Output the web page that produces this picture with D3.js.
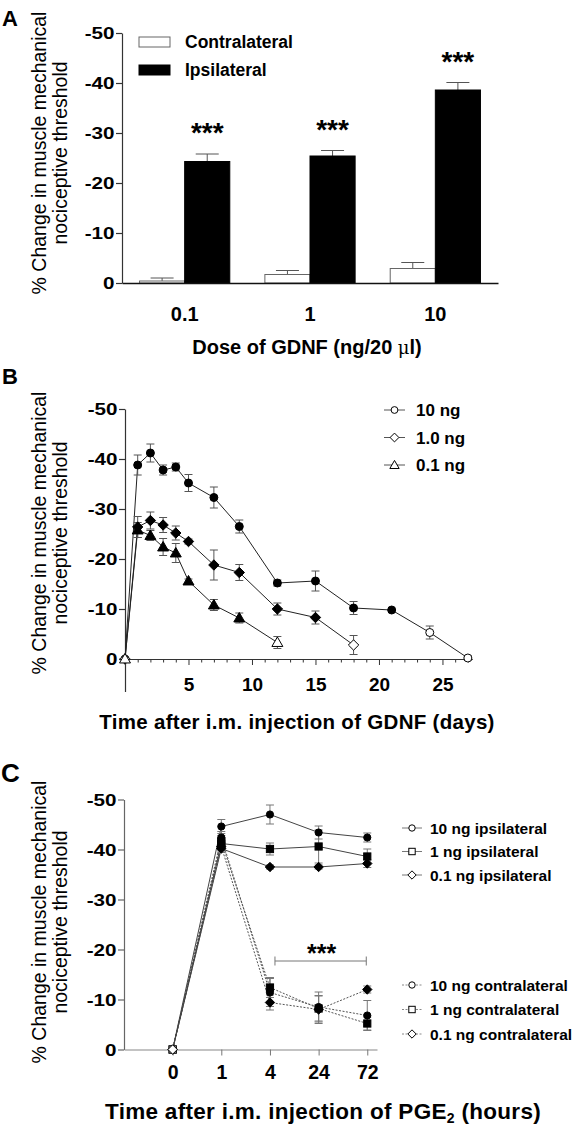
<!DOCTYPE html>
<html><head><meta charset="utf-8">
<script src="https://cdn.jsdelivr.net/npm/d3@7"></script>
<style>body{margin:0;background:#fff}svg{display:block}</style>
</head><body><svg id="c" width="577" height="1126"></svg>
<script>
// ---------- Panel A data ----------
const dosesA = ["0.1", "1", "10"];
const contraMeanA = [-0.4, -1.7, -2.9];
const contraErrA = [0.6, 0.8, 1.2];
const ipsiMeanA = [-24.3, -25.4, -38.6];
const ipsiErrA = [1.5, 1.1, 1.5];
const yTicks = [0, -10, -20, -30, -40, -50];

// ---------- Panel B data ----------
const daysB10 = [0, 1, 2, 3, 4, 5, 7, 9, 12, 15, 18, 21, 24, 27];
const valB10 = [0, -38.8, -41.2, -37.8, -38.4, -35.2, -32.3, -26.5, -15.2, -15.6, -10.2, -9.8, -5.3, -0.2];
const errB10 = [0, 2.0, 1.8, 1.0, 0.8, 1.7, 2.1, 1.3, 0.6, 2.0, 1.3, 0, 1.3, 0.4];
const sigB10 = [0, 1, 1, 1, 1, 1, 1, 1, 1, 1, 1, 1, 0, 0];
const daysB1 = [0, 1, 2, 3, 4, 5, 7, 9, 12, 15, 18];
const valB1 = [0, -26.4, -27.7, -26.8, -25.2, -23.5, -18.8, -17.3, -10.0, -8.3, -2.8];
const errB1 = [0, 2.1, 1.7, 1.5, 1.4, 0.5, 3.0, 1.6, 1.2, 1.3, 1.9];
const sigB1 = [0, 1, 1, 1, 1, 1, 1, 1, 1, 1, 0];
const daysB01 = [0, 1, 2, 3, 4, 5, 7, 9, 12];
const valB01 = [0, -25.8, -24.7, -22.4, -21.2, -15.6, -10.8, -8.2, -3.3];
const errB01 = [0, 1.5, 1.0, 1.7, 1.9, 0.4, 1.1, 1.0, 1.2];
const sigB01 = [0, 1, 1, 1, 1, 1, 1, 1, 0];
const xTicksB = [5, 10, 15, 20, 25];
const legendB = ["10 ng", "1.0 ng", "0.1 ng"];

// ---------- Panel C data ----------
const timesC = ["0", "1", "4", "24", "72"];
const ipsi10C = [0, -44.6, -47.0, -43.4, -42.4];
const ipsi10E = [0, 1.4, 1.9, 1.3, 0.9];
const ipsi1C = [0, -41.2, -40.1, -40.6, -38.6];
const ipsi1E = [0, 1.0, 1.2, 3.3, 1.5];
const ipsi01C = [0, -40.2, -36.5, -36.5, -37.2];
const ipsi01E = [0, 0.8, 0.4, 0.4, 0.8];
const contra10C = [0, -42.4, -11.4, -8.5, -6.8];
const contra10E = [0, 1.2, 2.8, 3.0, 3.0];
const contra1C = [0, -41.6, -12.4, -8.2, -5.2];
const contra1E = [0, 1.2, 2.0, 2.5, 1.3];
const contra01C = [0, -40.6, -9.4, -8.0, -12.0];
const contra01E = [0, 0.8, 1.5, 2.8, 0.7];
const legendCIpsi = ["10 ng ipsilateral", "1 ng ipsilateral", "0.1 ng ipsilateral"];
const legendCContra = ["10 ng contralateral", "1 ng contralateral", "0.1 ng contralateral"];
const bracketC = {from: 2, to: 4, value: -17.7};

const FONT = "'Liberation Sans', Arial, Helvetica, sans-serif";
const svg = d3.select("#c");

function txt(g, x, y, s, o = {}) {
  let tr = `translate(${x},${y})`;
  if (o.rot) tr += ` rotate(${o.rot})`;
  if (o.sx) tr += ` scale(${o.sx},1)`;
  const t = g.append("text").attr("transform", tr)
    .attr("font-family", FONT).attr("font-size", o.size || 16)
    .attr("font-weight", o.bold ? "bold" : "normal")
    .attr("text-anchor", o.anchor || "start").attr("fill", "#000").text(s);
  if (o.ls) t.attr("letter-spacing", o.ls);
  return t;
}

function yAxis(g, y, x0, color) {
  const a = g.append("g").attr("transform", `translate(${x0},0)`)
    .call(d3.axisLeft(y).tickValues(yTicks).tickSize(6).tickSizeOuter(0).tickFormat(d => String(d)));
  a.attr("font-family", FONT).attr("font-size", 16.5).attr("font-weight", "bold");
  a.select(".domain").attr("stroke", color).attr("stroke-width", 1.2);
  a.selectAll(".tick line").attr("stroke", color).attr("stroke-width", 1.2);
  a.selectAll(".tick text").attr("x", -7.5 / 1.25).attr("dy", "0.36em").attr("fill", "#000")
    .attr("transform", "scale(1.25,1)");
  return a;
}

function yTitle(g, cy) {
  txt(g, 46, cy, "% Change in muscle mechanical", {rot: -90, size: 19.5, anchor: "middle"});
  txt(g, 67, cy, "nociceptive threshold", {rot: -90, size: 19.5, anchor: "middle"});
}

function marker(g, shape, cx, cy, filled, sz) {
  const s = sz || 1;
  let el;
  if (shape === "circle") {
    el = g.append("circle").attr("cx", cx).attr("cy", cy).attr("r", 4 * s);
  } else if (shape === "square") {
    el = g.append("rect").attr("x", cx - 4 * s).attr("y", cy - 4 * s).attr("width", 8 * s).attr("height", 8 * s);
  } else if (shape === "diamond") {
    el = g.append("path").attr("d", `M${cx},${cy - 5.2 * s}L${cx + 5.2 * s},${cy}L${cx},${cy + 5.2 * s}L${cx - 5.2 * s},${cy}Z`);
  } else {
    el = g.append("path").attr("d", d3.symbol().type(d3.symbolTriangle).size(52 * s * s)()).attr("transform", `translate(${cx},${cy + 0.8})`);
  }
  el.attr("fill", filled ? "#000" : "#fff").attr("stroke", "#000").attr("stroke-width", 1);
}

function errBar(g, x, y, v, e, cap, color) {
  if (!e) return;
  g.append("line").attr("x1", x).attr("x2", x).attr("y1", y(v - e)).attr("y2", y(v + e)).attr("stroke", color).attr("stroke-width", 1);
  [v - e, v + e].forEach(w => g.append("line").attr("x1", x - cap / 2).attr("x2", x + cap / 2)
    .attr("y1", y(w)).attr("y2", y(w)).attr("stroke", color).attr("stroke-width", 1));
}

// ================= PANEL A =================
const gA = svg.append("g");
const yA = d3.scaleLinear().domain([0, -50]).range([283, 33]);
const xA = d3.scaleBand().domain(dosesA).range([122, 498]).paddingInner(0.28).paddingOuter(0.14);
const xSub = d3.scaleBand().domain(["c", "i"]).range([0, xA.bandwidth()]);

txt(gA, 2, 26, "A", {size: 22, bold: true});
yTitle(gA, 153);

dosesA.forEach((d, i) => {
  const series = [
    {k: "c", v: contraMeanA[i], e: contraErrA[i], fill: "#fff"},
    {k: "i", v: ipsiMeanA[i], e: ipsiErrA[i], fill: "#000"}
  ];
  series.forEach(s => {
    const x0 = xA(d) + xSub(s.k), w = xSub.bandwidth(), cx = x0 + w / 2;
    gA.append("line").attr("x1", cx).attr("x2", cx).attr("y1", yA(s.v)).attr("y2", yA(s.v - s.e)).attr("stroke", "#555").attr("stroke-width", 1);
    gA.append("line").attr("x1", cx - 11.5).attr("x2", cx + 11.5).attr("y1", yA(s.v - s.e)).attr("y2", yA(s.v - s.e)).attr("stroke", "#555").attr("stroke-width", 1);
    gA.append("rect").attr("x", x0).attr("y", yA(s.v)).attr("width", w).attr("height", yA(0) - yA(s.v))
      .attr("fill", s.fill).attr("stroke", s.k === "c" ? "#666" : "#000").attr("stroke-width", 1);
    if (s.k === "i") txt(gA, cx, yA(s.v - s.e) - 12, "***", {size: 28, bold: true, anchor: "middle"});
  });
});

yAxis(gA, yA, 122, "#333");
const axA = gA.append("g").attr("transform", `translate(0,${yA(0)})`).call(d3.axisBottom(xA).tickSize(0).tickSizeOuter(0).tickPadding(24));
axA.attr("font-family", FONT).attr("font-size", 20).attr("font-weight", "bold");
axA.select(".domain").attr("stroke", "#111").attr("stroke-width", 1.3);
axA.selectAll(".tick text").attr("fill", "#000");

const tA = txt(gA, 307, 354, "Dose of GDNF (ng/20 ", {size: 20, bold: true, anchor: "middle"});
tA.append("tspan").attr("font-weight", "normal").attr("font-family", "'DejaVu Serif', serif").attr("font-size", 18).text("μ");
tA.append("tspan").text("l)");

// legend A
[["Contralateral", "#fff", "#666"], ["Ipsilateral", "#000", "#000"]].forEach((l, i) => {
  const cy = 42 + i * 28;
  gA.append("rect").attr("x", 139).attr("y", cy - 5).attr("width", 31).attr("height", 10).attr("fill", l[1]).attr("stroke", l[2]);
  txt(gA, 185, cy + 6, l[0], {size: 17.5, bold: true});
});

// ================= PANEL B =================
const gB = svg.append("g");
const xB = d3.scaleLinear().domain([0, 27.35]).range([125, 472.3]);
const yB = d3.scaleLinear().domain([6.5, -50]).range([691.5, 409]);
txt(gB, 2, 384, "B", {size: 22, bold: true});
yTitle(gB, 533);

yAxis(gB, yB, 125, "#333");
const axB = gB.append("g").attr("transform", `translate(0,${yB(0)})`)
  .call(d3.axisBottom(xB).tickValues(xTicksB).tickSize(6).tickSizeOuter(0).tickPadding(13));
axB.attr("font-family", FONT).attr("font-size", 19).attr("font-weight", "bold");
axB.select(".domain").attr("stroke", "#333").attr("stroke-width", 1.2);
axB.selectAll(".tick line").attr("stroke", "#333");
axB.selectAll(".tick text").attr("fill", "#000");
gB.append("g").selectAll("line").data(d3.range(1, 28).filter(d => d % 5 !== 0)).join("line")
  .attr("x1", d => xB(d) + 0.5).attr("x2", d => xB(d) + 0.5).attr("y1", yB(0)).attr("y2", yB(0) + 3.5)
  .attr("stroke", "#333").attr("stroke-width", 1);

const seriesB = [
  {days: daysB10, val: valB10, err: errB10, sig: sigB10, shape: "circle"},
  {days: daysB1, val: valB1, err: errB1, sig: sigB1, shape: "diamond"},
  {days: daysB01, val: valB01, err: errB01, sig: sigB01, shape: "triangle"}
];
const lineB = d3.line().x(d => xB(d[0])).y(d => yB(d[1]));
seriesB.forEach(s => {
  const pts = s.days.map((d, i) => [d, s.val[i]]);
  gB.append("path").attr("d", lineB(pts)).attr("fill", "none").attr("stroke", "#222").attr("stroke-width", 1);
});
seriesB.forEach(s => s.days.forEach((d, i) => errBar(gB, xB(d), yB, s.val[i], s.err[i], 8, "#555")));
seriesB.forEach(s => s.days.forEach((d, i) => marker(gB, s.shape, xB(d), yB(s.val[i]), s.sig[i] === 1)));

legendB.forEach((l, i) => {
  const cy = 410 + i * 27.5;
  gB.append("line").attr("x1", 384).attr("x2", 405).attr("y1", cy).attr("y2", cy).attr("stroke", "#555");
  marker(gB, seriesB[i].shape, 394.5, cy, false, 0.85);
  txt(gB, 416, cy + 6, l, {size: 17, bold: true});
});
txt(gB, 297, 729, "Time after i.m. injection of GDNF (days)", {size: 20.5, bold: true, anchor: "middle", ls: 0.3});

// ================= PANEL C =================
const gC = svg.append("g");
const xC = d3.scaleLinear().domain([-1, 4.2]).range([124, 377]);
const yC = d3.scaleLinear().domain([0, -50]).range([1049.5, 799.5]);
txt(gC, 1, 782, "C", {size: 26, bold: true});
yTitle(gC, 922);

yAxis(gC, yC, 124, "#666");
const axC = gC.append("g").attr("transform", `translate(0,${yC(0)})`)
  .call(d3.axisBottom(xC).tickValues([0, 1, 2, 3, 4]).tickFormat(i => timesC[i]).tickSize(6).tickSizeOuter(0).tickPadding(10));
axC.attr("font-family", FONT).attr("font-size", 19.5).attr("font-weight", "bold");
axC.select(".domain").attr("stroke", "#888").attr("stroke-width", 1.2);
axC.selectAll(".tick line").attr("stroke", "#777");
axC.selectAll(".tick text").attr("fill", "#000");

const seriesC = [
  {v: contra10C, e: contra10E, shape: "circle", dash: "2,1.5"},
  {v: contra1C, e: contra1E, shape: "square", dash: "2,1.5"},
  {v: contra01C, e: contra01E, shape: "diamond", dash: "2,1.5"},
  {v: ipsi10C, e: ipsi10E, shape: "circle", dash: null},
  {v: ipsi1C, e: ipsi1E, shape: "square", dash: null},
  {v: ipsi01C, e: ipsi01E, shape: "diamond", dash: null}
];
const lineC = d3.line().x((d, i) => xC(i)).y(d => yC(d));
seriesC.forEach(s => {
  gC.append("path").attr("d", lineC(s.v)).attr("fill", "none")
    .attr("stroke", s.dash ? "#555" : "#444").attr("stroke-width", 1).attr("stroke-dasharray", s.dash);
});
seriesC.forEach(s => s.v.forEach((v, i) => errBar(gC, xC(i), yC, v, s.e[i], 8, "#777")));
seriesC.forEach(s => s.v.forEach((v, i) => marker(gC, s.shape, xC(i), yC(v), i > 0, 0.9)));

// significance bracket
const bx1 = xC(bracketC.from) + 5, bx2 = xC(bracketC.to) - 1, by = yC(bracketC.value);
gC.append("path").attr("d", `M${bx1},${by - 4.5}V${by + 4.5}M${bx1},${by}H${bx2}M${bx2},${by - 4.5}V${by + 4.5}`)
  .attr("stroke", "#777").attr("fill", "none").attr("stroke-width", 1);
txt(gC, (bx1 + bx2) / 2 + 1, by + 1, "***", {size: 25, bold: true, anchor: "middle"});

legendCIpsi.forEach((l, i) => {
  const cy = 828 + i * 23.5;
  gC.append("line").attr("x1", 402).attr("x2", 422).attr("y1", cy).attr("y2", cy).attr("stroke", "#777");
  marker(gC, seriesC[i + 3].shape, 412, cy, false, 0.8);
  txt(gC, 430, cy + 5.5, l, {size: 15.5, bold: true});
});
legendCContra.forEach((l, i) => {
  const cy = 985 + i * 24.5;
  gC.append("line").attr("x1", 402).attr("x2", 422).attr("y1", cy).attr("y2", cy).attr("stroke", "#888").attr("stroke-dasharray", "2,1.5");
  marker(gC, seriesC[i].shape, 412, cy, false, 0.8);
  txt(gC, 430, cy + 5.5, l, {size: 15.5, bold: true});
});

const tC = txt(gC, 323, 1119, "Time after i.m. injection of PGE", {size: 22.5, bold: true, anchor: "middle", ls: 0.3});
tC.append("tspan").attr("font-size", 14).attr("dy", 4).text("2");
tC.append("tspan").attr("dy", -4).text(" (hours)");
</script></body></html>
